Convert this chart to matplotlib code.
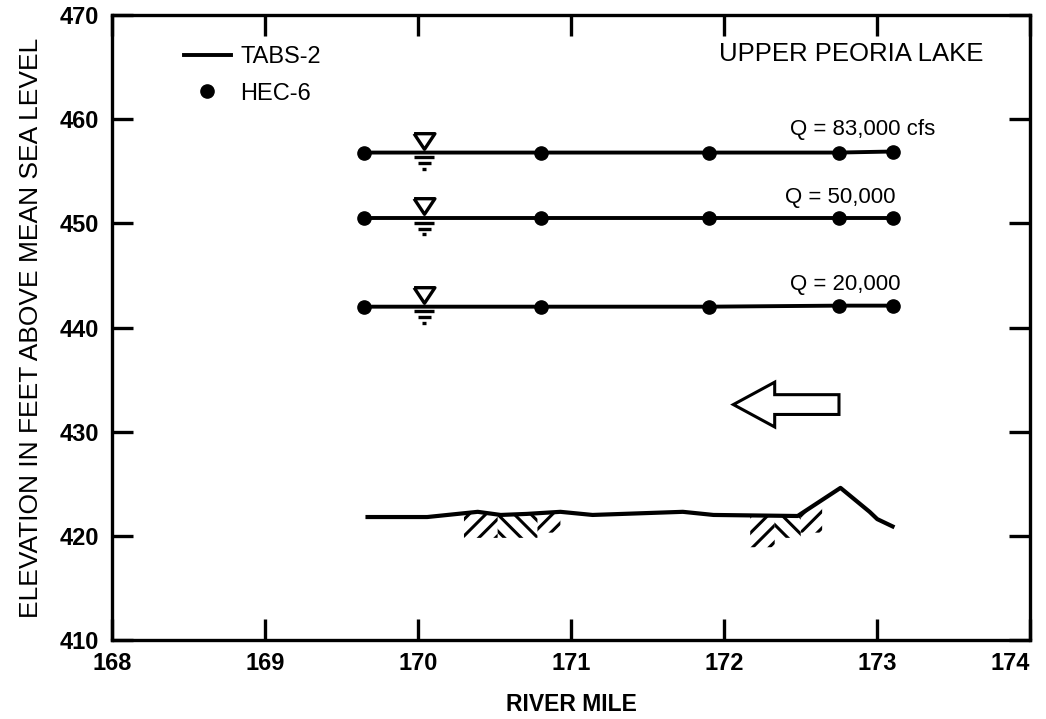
import numpy as np
import matplotlib
matplotlib.use("Agg")
from matplotlib import pyplot as plt
from matplotlib.patches import FancyArrow

plt.rcParams['font.family'] = ['Liberation Sans', 'DejaVu Sans']
plt.rcParams['hatch.linewidth'] = 2.2

# water surface profiles (river mile, elevation ft)
ws_x = [169.65, 170.80, 171.90, 172.75, 173.10]
ws_83k = [456.8, 456.8, 456.8, 456.8, 456.9]
ws_50k = [450.5, 450.5, 450.5, 450.5, 450.5]
ws_20k = [442.0, 442.0, 442.0, 442.1, 442.1]
q_labels = ['Q = 83,000 cfs', 'Q = 50,000', 'Q = 20,000']

# river bed profile
bed_x = [169.67, 170.06, 170.39, 170.54, 170.71, 170.93, 171.14, 171.73,
         171.93, 172.48, 172.76, 172.95, 173.00, 173.10]
bed_y = [421.8, 421.8, 422.3, 422.0, 422.1, 422.3, 422.0, 422.3,
         422.0, 421.9, 424.6, 422.3, 421.6, 420.9]

# hatched deposit areas below the bed: (start, end, bottom, hatch)
hatch_regions = [(170.30, 170.52, 419.8, '//'), (170.52, 170.78, 419.8, '\\\\'),
                 (170.78, 170.93, 420.3, '//'), (172.17, 172.33, 418.9, '//'),
                 (172.33, 172.50, 419.8, '\\\\'), (172.50, 172.64, 420.3, '//')]

fig = plt.figure(figsize=(10.46, 7.19), dpi=100)
ax = fig.add_axes([0.107, 0.110, 0.878, 0.869])

for i, ys in enumerate([ws_83k, ws_50k, ws_20k]):
    ax.plot(ws_x, ys, '-', color='black', lw=2.8, label='TABS-2' if i == 0 else None)
    ax.plot(ws_x, ys, 'o', color='black', ms=9.5, label='HEC-6' if i == 0 else None)
    # water surface symbol
    y0 = ys[1]
    ax.plot([170.04], [y0 + 1.15], marker=[(-1, 0.75), (1, 0.75), (0, -0.75), (-1, 0.75)],
            ms=15, mfc='white', mec='black', mew=2.4)
    for off, hw in [(0.45, 0.065), (1.0, 0.042), (1.55, 0.014)]:
        ax.plot([170.04 - hw, 170.04 + hw], [y0 - off, y0 - off], color='black', lw=2.4,
                solid_capstyle='butt')

ax.text(173.38, 459.0, q_labels[0], ha='right', va='center', fontsize=16)
ax.text(173.12, 452.5, q_labels[1], ha='right', va='center', fontsize=16)
ax.text(173.15, 444.1, q_labels[2], ha='right', va='center', fontsize=16)

ax.plot(bed_x, bed_y, color='black', lw=3.0)
for x0, x1, yb, h in hatch_regions:
    xs = np.linspace(x0, x1, 20)
    top = np.interp(xs, bed_x, bed_y)
    ax.fill_between(xs, yb, top, facecolor='none', edgecolor='black', hatch=h, linewidth=0)

ax.add_patch(FancyArrow(172.75, 432.6, -0.69, 0, width=1.9, head_width=4.3, head_length=0.27,
                        length_includes_head=True, fill=False, lw=2.2, ec='black'))

ax.text(0.949, 0.938, 'UPPER PEORIA LAKE', transform=ax.transAxes, ha='right', va='center',
        fontsize=18.5)
ax.legend(loc='upper left', bbox_to_anchor=(0.078, 0.95), frameon=False, fontsize=17,
          handlelength=2.0, handletextpad=0.4, labelspacing=0.6, borderpad=0, borderaxespad=0)

ax.set_xlim(168, 174)
ax.set_ylim(410, 470)
ax.set_xticks(np.arange(168, 175, 1))
ax.set_yticks(np.arange(410, 471, 10))
ax.tick_params(direction='in', length=15, width=2.4, top=True, right=True, labelsize=17, pad=9)
for lab in ax.get_xticklabels() + ax.get_yticklabels():
    lab.set_fontweight('bold')
ax.get_xticklabels()[-1].set_horizontalalignment('right')
for s in ax.spines.values():
    s.set_linewidth(2.4)

ax.set_xlabel('RIVER MILE', fontsize=16.5, fontweight='bold', labelpad=13)
ax.set_ylabel('ELEVATION IN FEET ABOVE MEAN SEA LEVEL', fontsize=19, labelpad=12)

fig.savefig('out.png', dpi=100)
